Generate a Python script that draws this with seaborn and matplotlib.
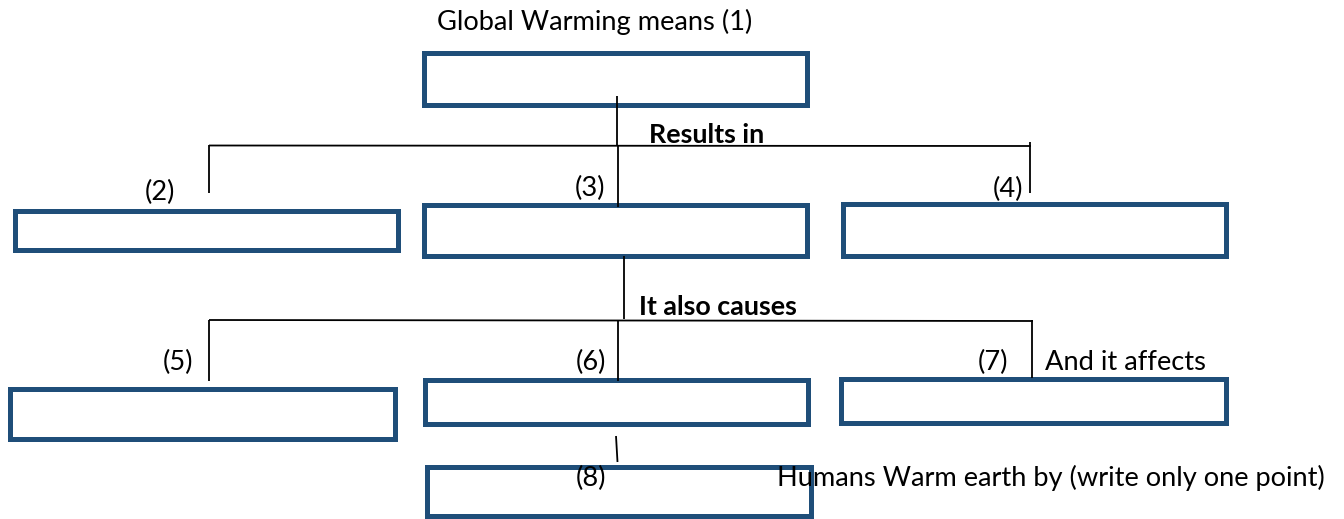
"""
Global warming worksheet diagram: empty answer boxes joined by connector lines.
"""
import matplotlib
matplotlib.use("Agg")
import matplotlib.pyplot as plt
from matplotlib.patches import Rectangle
import seaborn as sns

# ---- content ----
title_text = "Global Warming means (1)"
box_numbers = ["(2)", "(3)", "(4)", "(5)", "(6)", "(7)", "(8)"]
link_words = ["Results in", "It also causes"]
side_notes = ["And it affects", "Humans Warm earth by (write only one point)"]

# ---- layout (pixel space, y down) ----
W, H = 1344, 519
BOX_COLOR = "#1F4E79"
# x, y, w, h of box outline (stroke centre)
boxes = [
    (423.5, 52.5, 383, 52),   # (1)
    (14.5, 210.5, 383, 39),   # (2)
    (423.5, 204.5, 383, 51),  # (3)
    (842.5, 203.5, 383, 52),  # (4)
    (9.5, 388.5, 385, 50),    # (5)
    (424.5, 379.5, 383, 44),  # (6)
    (840.5, 378.5, 385, 44),  # (7)
    (426.5, 466.5, 384, 49),  # (8)
]
connectors = [
    ((616.5, 96), (616.5, 146)),
    ((618, 145), (618, 207)),
    ((209, 145.5), (1031, 146)),
    ((209, 145), (209, 193)),
    ((1030, 142), (1030, 193)),
    ((624, 256), (624, 319)),
    ((209, 320), (1033, 321)),
    ((209, 320), (209, 381)),
    ((618, 320), (618, 381)),
    ((1032, 320), (1032, 378)),
    ((616, 436), (617.5, 462)),
]
number_pos = [(145, 200), (575, 196), (993, 197), (163, 370), (576, 370), (978, 370), (576, 486)]
link_pos = [(649, 143), (639, 315)]
note_pos = [(1045, 370), (777, 486)]
title_pos = (437, 30)

sns.set_theme(style="white")
plt.rcParams["font.family"] = ["Lato", "DejaVu Sans"]
plt.rcParams["text.color"] = "black"

fig = plt.figure(figsize=(W / 100, H / 100), dpi=100)
ax = fig.add_axes([0, 0, 1, 1])
ax.set_xlim(0, W)
ax.set_ylim(H, 0)
ax.axis("off")


def fit_size(text, width_px, weight="normal"):
    """Font size (pt) that makes `text` about width_px wide."""
    t = ax.text(0, 0, text, fontsize=10, fontweight=weight)
    r = fig.canvas.get_renderer()
    w = t.get_window_extent(renderer=r).width
    t.remove()
    return 10 * width_px / w


fs = fit_size(title_text, 316)
fs_bold = fit_size(link_words[0], 116, "bold")

for (x, y, w, h) in boxes:
    ax.add_patch(Rectangle((x, y), w, h, fill=False, edgecolor=BOX_COLOR,
                           linewidth=3.6, joinstyle="miter"))

for (x0, y0), (x1, y1) in connectors:
    ax.plot([x0, x1], [y0, y1], color="black", linewidth=1.3, solid_capstyle="butt")

ax.text(*title_pos, title_text, fontsize=fs, ha="left", va="baseline", color="black")
for label, (x, y) in zip(box_numbers, number_pos):
    ax.text(x, y, label, fontsize=fs, ha="left", va="baseline", color="black")
for label, (x, y) in zip(link_words, link_pos):
    ax.text(x, y, label, fontsize=fs_bold, fontweight="bold", ha="left", va="baseline", color="black")
for label, (x, y) in zip(side_notes, note_pos):
    ax.text(x, y, label, fontsize=fs, ha="left", va="baseline", color="black")

fig.savefig("out.png", dpi=100, facecolor="white")
